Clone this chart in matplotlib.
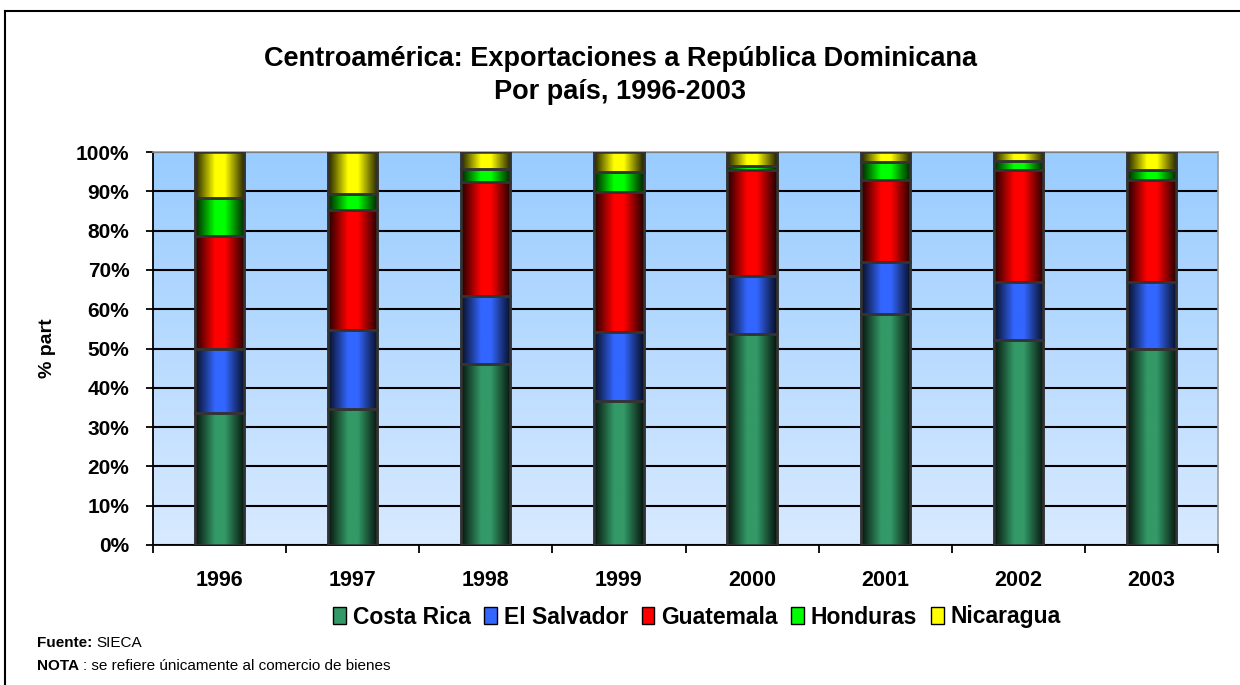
import numpy as np
import matplotlib
matplotlib.use("Agg")
import matplotlib.pyplot as plt
from matplotlib.patches import Rectangle
from matplotlib.lines import Line2D
from matplotlib.colors import to_rgb

years = ["1996", "1997", "1998", "1999", "2000", "2001", "2002", "2003"]
costa_rica = [33.6, 34.7, 46.0, 36.6, 53.6, 58.7, 52.1, 50.0]
el_salvador = [16.4, 19.9, 17.4, 17.6, 14.9, 13.2, 14.7, 16.8]
guatemala = [28.6, 30.6, 29.0, 35.6, 26.9, 21.1, 28.6, 26.0]
honduras = [9.7, 4.2, 3.2, 5.2, 1.1, 4.5, 2.3, 2.6]
nicaragua = [11.7, 10.6, 4.4, 5.0, 3.5, 2.5, 2.3, 4.6]

series = [
    ("Costa Rica", costa_rica, "#339966"),
    ("El Salvador", el_salvador, "#3366FF"),
    ("Guatemala", guatemala, "#FF0000"),
    ("Honduras", honduras, "#00FF00"),
    ("Nicaragua", nicaragua, "#FFFF00"),
]

plt.rcParams['font.family'] = ['Liberation Sans', 'DejaVu Sans']

fig = plt.figure(figsize=(12.4, 6.85), dpi=100)
fig.patch.set_facecolor("white")

ax = fig.add_axes([153/1240, 1-545/685, (1218-153)/1240, (545-152)/685])

# background gradient
grad = np.linspace(0, 1, 256).reshape(-1, 1)
top_c = np.array(to_rgb("#99CCFF"))
bot_c = np.array(to_rgb("#D8EAFF"))
bg = bot_c[None, None, :] * (1 - grad[..., None]) + top_c[None, None, :] * grad[..., None]
ax.imshow(bg, extent=[0, 1, 0, 1], transform=ax.transAxes, origin="lower",
          aspect="auto", zorder=0, interpolation="bilinear")

x = np.arange(len(years))
width = 0.37
bottom = np.zeros(len(years))

t = np.linspace(0, 1, 64)
prof = np.interp(t, [0, 0.1, 0.4, 0.6, 0.9, 1.0], [0.15, 0.35, 1.0, 1.0, 0.35, 0.15])

handles = []
for name, vals, col in series:
    vals = np.array(vals, dtype=float)
    bars = ax.bar(x, vals, width, bottom=bottom, color=col, edgecolor="#333333",
                  linewidth=1.8, zorder=3)
    base = np.array(to_rgb(col))
    img = (prof[:, None] * base[None, :])[None, :, :]
    for b in bars:
        bx, by = b.get_x(), b.get_y()
        bw, bh = b.get_width(), b.get_height()
        im = ax.imshow(img, extent=[bx, bx + bw, by, by + bh], aspect="auto",
                       zorder=3.5, interpolation="bilinear")
        im.set_clip_path(b)
        ax.add_patch(Rectangle((bx, by), bw, bh, fill=False, edgecolor="#333333",
                               linewidth=1.8, zorder=4))
    bottom += vals
    handles.append(Rectangle((0, 0), 1, 1, facecolor=col, edgecolor="black", linewidth=1))

ax.set_xlim(-0.5, len(years) - 0.5)
ax.set_ylim(0, 100)
ax.set_yticks(np.arange(0, 101, 10))
ax.set_yticklabels([f"{v}%" for v in range(0, 101, 10)], fontsize=15, fontweight="bold")
ax.yaxis.grid(True, color="black", linewidth=1.5, zorder=1)
ax.set_axisbelow(True)

ax.set_xticks(np.arange(-0.5, len(years), 1))
ax.set_xticklabels([])
ax.set_xticks(x, minor=True)
ax.set_xticklabels(years, minor=True, fontsize=15.5, fontweight="bold")
ax.tick_params(axis="x", which="minor", length=0, pad=18)
ax.tick_params(axis="x", which="major", length=6, width=1.3, direction="out")
ax.tick_params(axis="y", length=5, width=1.3, direction="out", pad=12)

for s in ["top", "right"]:
    ax.spines[s].set_color("#999999")
    ax.spines[s].set_linewidth(1.2)
for s in ["left", "bottom"]:
    ax.spines[s].set_color("black")
    ax.spines[s].set_linewidth(1.3)

ax.set_ylabel("% part", fontsize=14, fontweight="bold", labelpad=14)

fig.text(0.5, 1 - 59/685, "Centroamérica: Exportaciones a República Dominicana",
         ha="center", va="center", fontsize=19.5, fontweight="bold")
fig.text(0.5, 1 - 92/685, "Por país, 1996-2003",
         ha="center", va="center", fontsize=19.5, fontweight="bold")

fig.legend(handles, [s[0] for s in series], loc="center", bbox_to_anchor=(697/1240, 1 - 617/685),
           ncol=5, frameon=False, prop={"weight": "bold", "size": 16.5},
           handlelength=0.55, handleheight=0.8, handletextpad=0.3, columnspacing=0.6)

fig.text(37/1240, 1 - 643/685, "Fuente:", fontsize=11, fontweight="bold", va="center")
fig.text(96/1240, 1 - 643/685, "SIECA", fontsize=11, va="center")
fig.text(37/1240, 1 - 666/685, "NOTA", fontsize=11, fontweight="bold", va="center")
fig.text(83/1240, 1 - 666/685, ": se refiere únicamente al comercio de bienes", fontsize=11, va="center")

fig.add_artist(Line2D([5/1240, 5/1240], [0, 1 - 11/685], color="black", linewidth=1.5,
                      transform=fig.transFigure))
fig.add_artist(Line2D([5/1240, 1], [1 - 11/685, 1 - 11/685], color="black", linewidth=1.5,
                      transform=fig.transFigure))

fig.savefig("out.png", dpi=100)
